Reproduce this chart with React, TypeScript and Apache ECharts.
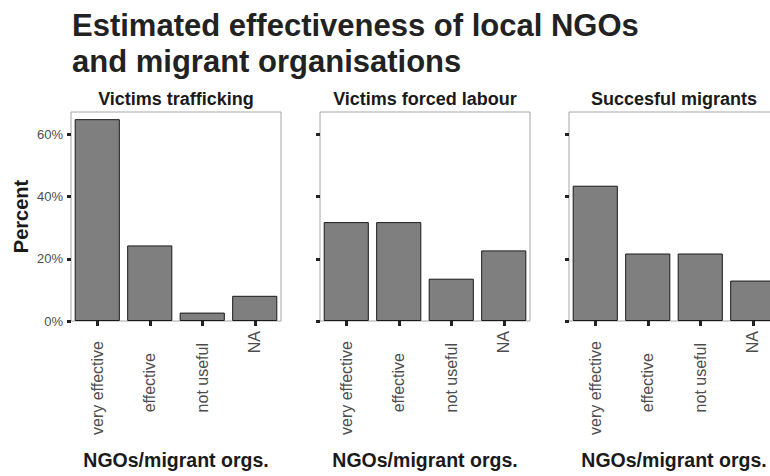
import React, { useEffect, useRef } from 'react';
import * as echarts from 'echarts';

const categories = ['very effective', 'effective', 'not useful', 'NA'];
const panelTitles = ['Victims trafficking', 'Victims forced labour', 'Succesful migrants'];
const victimsTrafficking = [64.9, 24.3, 2.7, 8.1];
const victimsForcedLabour = [31.8, 31.8, 13.6, 22.7];
const succesfulMigrants = [43.5, 21.7, 21.7, 13.0];
const yTicks = [0, 20, 40, 60];
const yMax = 67.2;
const titleLines = ['Estimated effectiveness of local NGOs', 'and migrant organisations'];
const xAxisTitle = 'NGOs/migrant orgs.';
const yAxisTitle = 'Percent';

const FONT = '"Liberation Sans", Arial, Helvetica, sans-serif';

export default function App() {
  const ref = useRef<HTMLDivElement>(null);
  useEffect(() => {
    document.body.style.margin = '0';
    if (!ref.current) return;
    const chart = echarts.init(ref.current, undefined, { renderer: 'svg' });
    const panelData = [victimsTrafficking, victimsForcedLabour, succesfulMigrants];
    const lefts = [71, 320, 569];
    const top = 112;
    const width = 210;
    const height = 209;
    const labelPad = [10, 22, 12, 0];
    const rich: any = {};
    labelPad.forEach((p, i) => {
      rich['p' + i] = { padding: [0, p, 0, 0], fontSize: 16, color: '#4d4d4d', fontFamily: FONT };
    });

    const option: any = {
      animation: false,
      backgroundColor: '#ffffff',
      title: {
        text: titleLines.join('\n'),
        left: 72,
        top: 7,
        padding: 0,
        textStyle: { fontSize: 31, fontWeight: 'bold', color: '#222222', lineHeight: 36, fontFamily: FONT },
      },
      graphic: panelTitles.map((t, i) => ({
        type: 'text',
        x: lefts[i] + width / 2,
        y: 99,
        style: {
          text: t,
          fontSize: 18,
          fontWeight: 'bold',
          fontFamily: FONT,
          fill: '#1a1a1a',
          textAlign: 'center',
          textVerticalAlign: 'middle',
        },
      })),
      grid: lefts.map((l) => ({
        left: l,
        top,
        width,
        height,
        show: true,
        containLabel: false,
        outerBoundsMode: 'none',
        borderColor: '#a6a6a6',
        borderWidth: 1,
        backgroundColor: 'transparent',
      })),
      xAxis: lefts.map((_, i) => ({
        type: 'category',
        gridIndex: i,
        data: categories,
        axisLine: { show: false },
        axisTick: { show: true, alignWithLabel: true, length: 5, lineStyle: { color: '#222222', width: 3 } },
        axisLabel: {
          rotate: 90,
          margin: 10,
          fontSize: 16,
          color: '#4d4d4d',
          fontFamily: FONT,
          formatter: (v: string, idx: number) => `{p${idx}|${v}}`,
          rich,
        },
        name: xAxisTitle,
        nameLocation: 'middle',
        nameGap: 129,
        nameTextStyle: { fontSize: 19.5, fontWeight: 'bold', color: '#1a1a1a', fontFamily: FONT },
        splitLine: { show: false },
      })),
      yAxis: lefts.map((_, i) => ({
        type: 'value',
        gridIndex: i,
        min: 0,
        max: yMax,
        axisLine: { show: false },
        axisTick: { show: true, length: 4, lineStyle: { color: '#222222', width: 3 }, customValues: yTicks },
        axisLabel: {
          show: i === 0,
          customValues: yTicks,
          formatter: '{value}%',
          fontSize: 13,
          color: '#4d4d4d',
          fontFamily: FONT,
          margin: 8,
        },
        splitLine: { show: false },
        name: i === 0 ? yAxisTitle : '',
        nameLocation: 'middle',
        nameRotate: 90,
        nameGap: 40,
        nameTextStyle: { fontSize: 20, fontWeight: 'bold', color: '#1a1a1a', fontFamily: FONT },
      })),
      series: panelData.map((d, i) => ({
        type: 'bar',
        xAxisIndex: i,
        yAxisIndex: i,
        data: d,
        barCategoryGap: '14%',
        itemStyle: { color: '#7f7f7f', borderColor: '#1a1a1a', borderWidth: 1 },
      })),
    };
    chart.setOption(option);
    return () => chart.dispose();
  }, []);
  return <div ref={ref} style={{ width: 770, height: 476 }} />;
}
